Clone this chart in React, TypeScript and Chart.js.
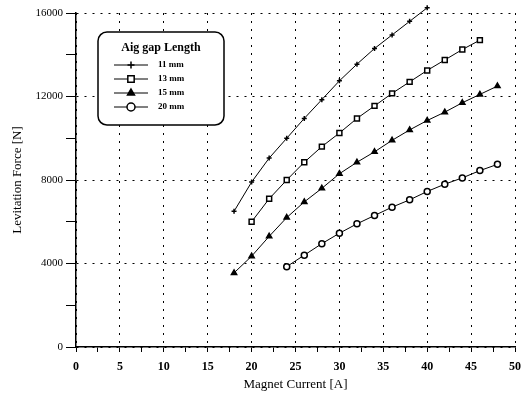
import React, { useEffect, useRef } from "react";
import { Chart, registerables } from "chart.js";
import { drawPoint } from "chart.js/helpers";

Chart.register(...registerables);

const legendTitle = "Aig gap Length";
const seriesLabels = ["11 mm", "13 mm", "15 mm", "20 mm"];

const current11 = [18, 20, 22, 24, 26, 28, 30, 32, 34, 36, 38, 40];
const force11 = [6500, 7900, 9050, 10000, 10950, 11850, 12750, 13550, 14300, 14950, 15600, 16250];

const current13 = [20, 22, 24, 26, 28, 30, 32, 34, 36, 38, 40, 42, 44, 46];
const force13 = [6000, 7100, 8000, 8850, 9600, 10250, 10950, 11550, 12150, 12700, 13250, 13750, 14250, 14700];

const current15 = [18, 20, 22, 24, 26, 28, 30, 32, 34, 36, 38, 40, 42, 44, 46, 48];
const force15 = [3550, 4350, 5300, 6200, 6950, 7600, 8300, 8850, 9350, 9900, 10400, 10850, 11250, 11700, 12100, 12500];

const current20 = [24, 26, 28, 30, 32, 34, 36, 38, 40, 42, 44, 46, 48];
const force20 = [3850, 4400, 4950, 5450, 5900, 6300, 6700, 7050, 7450, 7800, 8100, 8450, 8750];

const xTicksMajor = [0, 5, 10, 15, 20, 25, 30, 35, 40, 45, 50];
const yTicksMajor = [0, 4000, 8000, 12000, 16000];

const xTitle = "Magnet Current [A]";
const yTitle = "Levitation Force [N]";

const zip = (xs: number[], ys: number[]) => xs.map((x, i) => ({ x, y: ys[i] }));

const SERIF = "'Liberation Serif', 'DejaVu Serif', serif";

const legendPlugin = {
  id: "boxLegend",
  afterDraw(chart: any) {
    const ctx = chart.ctx;
    const x0 = 98, y0 = 32, w = 126, h = 93, r = 9;
    ctx.save();
    ctx.fillStyle = "#fff";
    ctx.strokeStyle = "#000";
    ctx.lineWidth = 1.5;
    ctx.beginPath();
    ctx.roundRect(x0, y0, w, h, r);
    ctx.fill();
    ctx.stroke();
    ctx.fillStyle = "#000";
    ctx.font = `bold 12px ${SERIF}`;
    ctx.textAlign = "center";
    ctx.textBaseline = "middle";
    ctx.fillText(legendTitle, x0 + w / 2, 48);
    const rows = [65, 79, 93, 107];
    chart.data.datasets.forEach((ds: any, i: number) => {
      const y = rows[i];
      ctx.strokeStyle = "#000";
      ctx.lineWidth = 1;
      ctx.beginPath();
      ctx.moveTo(114, y);
      ctx.lineTo(148, y);
      ctx.stroke();
      ctx.fillStyle = ds.pointBackgroundColor;
      ctx.strokeStyle = ds.pointBorderColor;
      ctx.lineWidth = ds.pointBorderWidth;
      drawPoint(ctx, { pointStyle: ds.pointStyle, radius: ds.pointRadius + 1, borderWidth: ds.pointBorderWidth, rotation: 0 }, 131, y);
      ctx.fillStyle = "#000";
      ctx.font = `bold 9px ${SERIF}`;
      ctx.textAlign = "left";
      ctx.fillText(ds.label, 158, y);
    });
    ctx.restore();
  },
};

export default function App() {
  const ref = useRef<HTMLCanvasElement | null>(null);
  useEffect(() => {
    document.body.style.margin = "0";
    const canvas = ref.current!;
    const mk = (label: string, data: any[], style: string, radius: number, fill: string) => ({
      label,
      data,
      borderColor: "#000",
      borderWidth: 1,
      pointStyle: style,
      pointRadius: radius,
      pointBackgroundColor: fill,
      pointBorderColor: "#000",
      pointBorderWidth: 1.5,
      tension: 0,
      fill: false,
      clip: false,
    });
    const chart = new Chart(canvas, {
      type: "line",
      data: {
        datasets: [
          mk(seriesLabels[0], zip(current11, force11), "cross", 2.5, "#000"),
          mk(seriesLabels[1], zip(current13, force13), "rect", 3.5, "#fff"),
          mk(seriesLabels[2], zip(current15, force15), "triangle", 3, "#000"),
          mk(seriesLabels[3], zip(current20, force20), "circle", 3, "#fff"),
        ],
      },
      options: {
        animation: false,
        responsive: false,
        layout: { padding: { top: 13, right: 10, left: 0, bottom: 0 } },
        plugins: { legend: { display: false }, tooltip: { enabled: false } },
        scales: {
          x: {
            type: "linear",
            min: 0,
            max: 50,
            afterBuildTicks: (s: any) => {
              const t: any[] = [];
              for (let v = 0; v <= 50; v += 2.5) t.push({ value: v });
              s.ticks = t;
            },
            afterFit: (s: any) => {
              s.height = 51;
            },
            ticks: {
              autoSkip: false,
              maxRotation: 0,
              color: "#000",
              padding: 8,
              font: { family: SERIF, size: 12, weight: "bold" },
              callback: (v: any) => (xTicksMajor.includes(Number(v)) ? String(v) : ""),
            },
            grid: {
              color: (c: any) => (c.tick && xTicksMajor.includes(c.tick.value) ? "#000" : "rgba(0,0,0,0)"),
              tickColor: "#000",
              tickLength: 5,
              lineWidth: 1,
            },
            border: { display: true, color: "#000", width: 1.5, dash: [2, 6] },
            title: {
              display: true,
              text: xTitle,
              color: "#000",
              font: { family: SERIF, size: 13 },
              padding: { top: 0, bottom: 6 },
            },
          },
          y: {
            type: "linear",
            min: 0,
            max: 16000,
            afterBuildTicks: (s: any) => {
              const t: any[] = [];
              for (let v = 0; v <= 16000; v += 2000) t.push({ value: v });
              s.ticks = t;
            },
            afterFit: (s: any) => {
              s.width = 76;
            },
            ticks: {
              autoSkip: false,
              color: "#000",
              padding: 3,
              font: { family: SERIF, size: 11 },
              callback: (v: any) => (yTicksMajor.includes(Number(v)) ? String(v) : ""),
            },
            grid: {
              color: (c: any) => (c.tick && yTicksMajor.includes(c.tick.value) ? "#000" : "rgba(0,0,0,0)"),
              tickColor: "#000",
              tickLength: 10,
              lineWidth: 1,
            },
            border: { display: true, color: "#000", width: 1.5, dash: [2, 6] },
            title: {
              display: true,
              text: yTitle,
              color: "#000",
              font: { family: SERIF, size: 13 },
              padding: { top: 10, bottom: 4 },
            },
          },
        },
      },
      plugins: [legendPlugin],
    } as any);
    return () => chart.destroy();
  }, []);
  return (
    <div style={{ position: "absolute", left: 0, top: 0, width: 529, height: 398, background: "#fff" }}>
      <canvas ref={ref} width={529} height={398} style={{ width: 529, height: 398 }} />
    </div>
  );
}
